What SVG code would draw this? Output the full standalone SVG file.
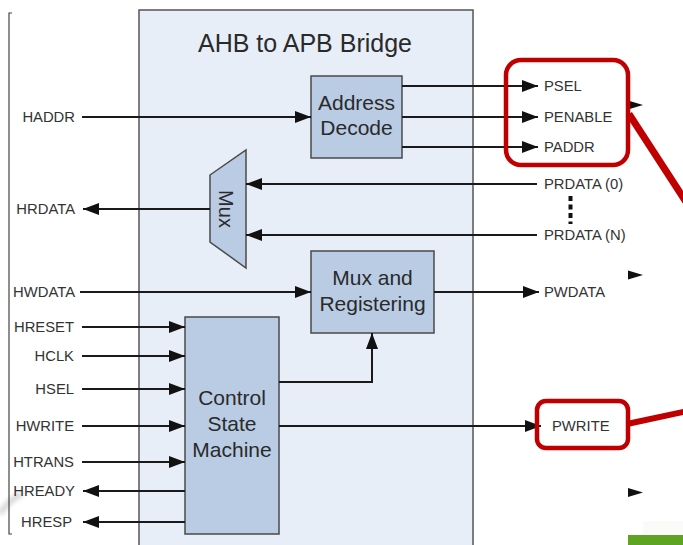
<svg xmlns="http://www.w3.org/2000/svg" width="683" height="545" viewBox="0 0 683 545">
  <defs>
    <marker id="arrow" viewBox="0 0 16 12" refX="16" refY="6" markerWidth="16" markerHeight="12" markerUnits="userSpaceOnUse" orient="auto">
      <path d="M0,0 L16,6 L0,12 Z" fill="#111"/>
    </marker>
    <filter id="soft" x="-50%" y="-50%" width="200%" height="200%">
      <feGaussianBlur stdDeviation="2"/>
    </filter>
  </defs>
  <style>
    .sig { font-family: "Liberation Sans", Arial, sans-serif; font-size: 14.8px; fill: #333; }
    .blk { font-family: "Liberation Sans", Arial, sans-serif; font-size: 21px; fill: #2a2a2a; text-anchor: middle; }
    .title { font-family: "Liberation Sans", Arial, sans-serif; font-size: 25px; fill: #2a2a2a; text-anchor: middle; }
    .box { fill: #b9cce4; stroke: #4a4a4a; stroke-width: 1.5; }
    .wire { stroke: #1a1a1a; stroke-width: 2; fill: none; }
    .arr { marker-end: url(#arrow); }
    .hl { fill: none; stroke: #c00000; stroke-width: 4.5; }
    .pin { fill: #111; }
  </style>

  <rect width="683" height="545" fill="#ffffff"/>

  <!-- faint shading at lower left -->
  <path d="M0,514 Q8,500 22,494" fill="none" stroke="#d9d9d9" stroke-width="6" filter="url(#soft)"/>

  <!-- left bracket -->
  <path d="M12,13 L9,13 L9,534 L12,534" fill="none" stroke="#444" stroke-width="1.2"/>

  <!-- bridge container -->
  <g id="bridge">
    <rect x="139" y="10" width="334" height="545" fill="#e7eef8" stroke="#555" stroke-width="1.5"/>
    <text class="title" x="305" y="52">AHB to APB Bridge</text>
  </g>

  <g id="address-decode">
    <rect class="box" x="311" y="76" width="91" height="82"/>
    <text class="blk" x="356.5" y="110">Address</text>
    <text class="blk" x="356.5" y="135">Decode</text>
  </g>

  <g id="mux">
    <path class="box" d="M210,175 L246,150 L246,268 L210,242 Z"/>
    <text transform="translate(219,209) rotate(90)" font-family="Liberation Sans, Arial, sans-serif" font-size="20" fill="#2a2a2a" text-anchor="middle">Mux</text>
  </g>

  <g id="mux-registering">
    <rect class="box" x="311" y="251" width="123" height="82"/>
    <text class="blk" x="372.5" y="285">Mux and</text>
    <text class="blk" x="372.5" y="311">Registering</text>
  </g>

  <g id="control-state-machine">
    <rect class="box" x="185" y="317" width="94" height="217"/>
    <text class="blk" x="232" y="405">Control</text>
    <text class="blk" x="232" y="431">State</text>
    <text class="blk" x="232" y="457">Machine</text>
  </g>

  <!-- connectors -->
  <g id="connectors">
    <line class="wire arr" x1="82" y1="117" x2="311" y2="117"/>
    <line class="wire arr" x1="402" y1="86" x2="538" y2="86"/>
    <line class="wire arr" x1="402" y1="117" x2="538" y2="117"/>
    <line class="wire arr" x1="402" y1="147" x2="538" y2="147"/>
    <line class="wire arr" x1="537" y1="184" x2="246" y2="184"/>
    <line class="wire arr" x1="537" y1="235" x2="246" y2="235"/>
    <line class="wire arr" x1="210" y1="209" x2="83" y2="209"/>
    <line class="wire arr" x1="80" y1="292" x2="311" y2="292"/>
    <line class="wire arr" x1="434" y1="292" x2="539" y2="292"/>
    <line class="wire arr" x1="82" y1="327" x2="185" y2="327"/>
    <line class="wire arr" x1="82" y1="356" x2="185" y2="356"/>
    <line class="wire arr" x1="82" y1="389" x2="185" y2="389"/>
    <line class="wire arr" x1="82" y1="426" x2="185" y2="426"/>
    <line class="wire arr" x1="82" y1="462" x2="185" y2="462"/>
    <line class="wire arr" x1="185" y1="491" x2="83" y2="491"/>
    <line class="wire arr" x1="185" y1="522" x2="83" y2="522"/>
    <polyline class="wire arr" points="279,382 372,382 372,333"/>
    <line class="wire arr" x1="279" y1="426" x2="541" y2="426"/>
    <!-- continuation dots between PRDATA lanes -->
    <line x1="570.5" y1="196" x2="570.5" y2="224" stroke="#111" stroke-width="4" stroke-dasharray="5 3.5"/>
  </g>

  <!-- signal labels -->
  <g id="ahb-signals">
    <text class="sig" x="75" y="122" text-anchor="end">HADDR</text>
    <text class="sig" x="75" y="214" text-anchor="end">HRDATA</text>
    <text class="sig" x="75" y="297" text-anchor="end">HWDATA</text>
    <text class="sig" x="74" y="332" text-anchor="end">HRESET</text>
    <text class="sig" x="74" y="361" text-anchor="end">HCLK</text>
    <text class="sig" x="74" y="394" text-anchor="end">HSEL</text>
    <text class="sig" x="74" y="431" text-anchor="end">HWRITE</text>
    <text class="sig" x="74" y="467" text-anchor="end">HTRANS</text>
    <text class="sig" x="75" y="496" text-anchor="end">HREADY</text>
    <text class="sig" x="72" y="527" text-anchor="end">HRESP</text>
  </g>
  <g id="apb-signals">
    <text class="sig" x="544" y="91">PSEL</text>
    <text class="sig" x="544" y="122">PENABLE</text>
    <text class="sig" x="544" y="152">PADDR</text>
    <text class="sig" x="544" y="189">PRDATA (0)</text>
    <text class="sig" x="544" y="240">PRDATA (N)</text>
    <text class="sig" x="544" y="297">PWDATA</text>
    <text class="sig" x="552" y="431">PWRITE</text>
  </g>

  <!-- stray pin arrows at the right -->
  <g id="pins">
    <path class="pin" d="M628,100.5 L643,105 L628,109.5 Z"/>
    <path class="pin" d="M628,270.5 L643,275 L628,279.5 Z"/>
    <path class="pin" d="M628,488 L643,492.5 L628,497 Z"/>
  </g>

  <!-- red highlight callouts -->
  <g id="callouts">
    <line x1="629" y1="114" x2="688" y2="205" stroke="#c00000" stroke-width="7"/>
    <line x1="627" y1="424" x2="690" y2="410.5" stroke="#c00000" stroke-width="6"/>
    <rect class="hl" x="506" y="60" width="122" height="105" rx="15"/>
    <rect class="hl" x="537" y="401" width="91" height="47" rx="9" stroke-width="4"/>
  </g>

  <!-- green bar at lower right -->
  <rect x="643" y="521" width="40" height="14" fill="#fafbf8"/>
  <rect x="628" y="535" width="55" height="10" fill="#5ea321"/>
</svg>
